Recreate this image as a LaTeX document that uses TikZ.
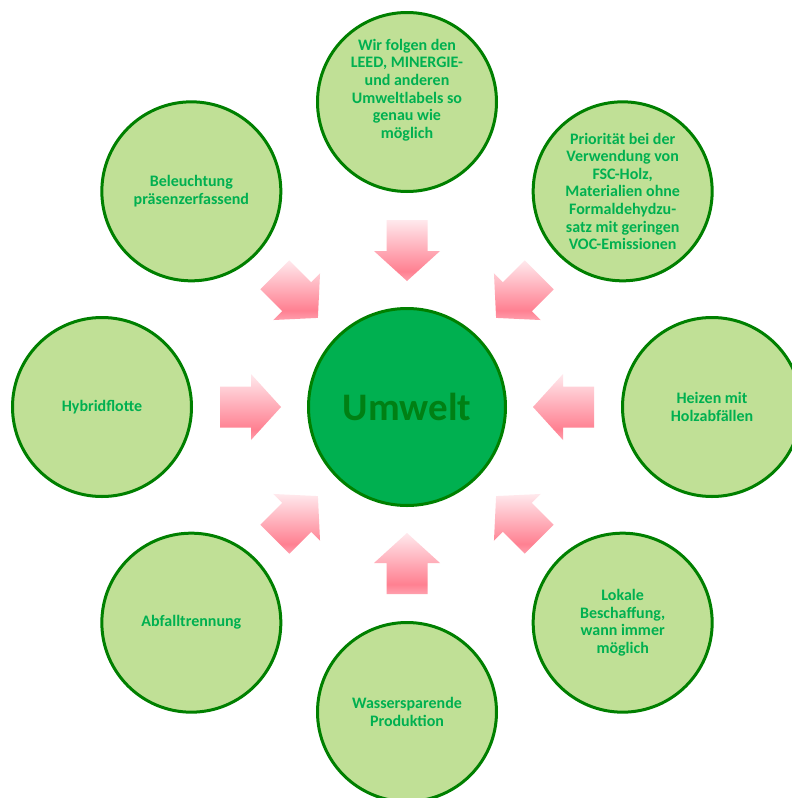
\documentclass[tikz,border=0pt]{standalone}
\usepackage{fontspec}
\setmainfont{Carlito}
\usetikzlibrary{calc}
\definecolor{outerfill}{RGB}{192,224,150}
\definecolor{ringline}{RGB}{0,128,0}
\definecolor{centerfill}{RGB}{0,176,80}
\definecolor{umwelttext}{RGB}{0,128,20}
\definecolor{txtgreen}{RGB}{0,176,80}
\definecolor{pklight}{RGB}{255,233,237}
\definecolor{pkdark}{RGB}{255,128,145}
\definecolor{pkbot}{RGB}{255,160,174}
\pgfdeclareverticalshading{pinkarrow}{100bp}{color(0bp)=(pkbot); color(25bp)=(pkbot); color(33bp)=(pkdark); color(75bp)=(pklight); color(100bp)=(pklight)}
\begin{document}
\begin{tikzpicture}[x=1pt,y=-1pt,
  outerc/.style={circle,draw=ringline,line width=3pt,fill=outerfill,minimum size=179pt,inner sep=0pt},
  centerc/.style={circle,draw=ringline,line width=3pt,fill=centerfill,minimum size=197pt,inner sep=0pt,
     text=umwelttext,font=\fontsize{39}{44}\selectfont\bfseries},
  txt/.style={align=center,text=txtgreen,inner sep=0pt,font=\fontsize{16}{17.6}\selectfont\bfseries}]
\path[use as bounding box,fill=white] (0,0) rectangle (792,798);
\clip (0,0) rectangle (792,798);
\node[centerc] (U) at (407,407) {Umwelt};
% block arrows pointing to the centre
\foreach \t in {0,45,...,315}{
  \shade[shading=pinkarrow]
    ($(U.center)+(\t:126)$)
    -- ($(U.center)+(\t:156)+(\t+90:33)$)
    -- ($(U.center)+(\t:156)+(\t+90:20.5)$)
    -- ($(U.center)+(\t:187)+(\t+90:20.5)$)
    -- ($(U.center)+(\t:187)+(\t-90:20.5)$)
    -- ($(U.center)+(\t:156)+(\t-90:20.5)$)
    -- ($(U.center)+(\t:156)+(\t-90:33)$)
    -- cycle;
}
% outer circles
\node[outerc] (cR)  at ($(U.center)+(0:305)$) {};
\node[outerc] (cBR) at ($(U.center)+(45:305)$) {};
\node[outerc] (cB)  at ($(U.center)+(90:305)$) {};
\node[outerc] (cBL) at ($(U.center)+(135:305)$) {};
\node[outerc] (cL)  at ($(U.center)+(180:305)$) {};
\node[outerc] (cTL) at ($(U.center)+(225:305)$) {};
\node[outerc] (cT)  at ($(U.center)+(270:305)$) {};
\node[outerc] (cTR) at ($(U.center)+(315:305)$) {};
% texts
\node[txt] (tR)  at (cR.center)  {Heizen mit\\Holzabfällen};
\node[txt] (tBR) at (cBR.center) {Lokale\\Beschaffung,\\wann immer\\möglich};
\node[txt] (tB)  at (cB.center)  {Wassersparende\\Produktion};
\node[txt] (tBL) at (cBL.center) {Abfalltrennung};
\node[txt] (tL)  at (cL.center)  {Hybridflotte};
\node[txt] (tTL) at (cTL.center) {Beleuchtung\\präsenzerfassend};
\node[txt] (tT)  at ([yshift=12pt]cT.center) {Wir folgen den\\LEED, MINERGIE-\\und anderen\\Umweltlabels so\\genau wie\\möglich};
\node[txt] (tTR) at (cTR.center) {Priorität bei der\\Verwendung von\\FSC-Holz,\\Materialien ohne\\Formaldehydzu-\\satz mit geringen\\VOC-Emissionen};
\end{tikzpicture}
\end{document}
